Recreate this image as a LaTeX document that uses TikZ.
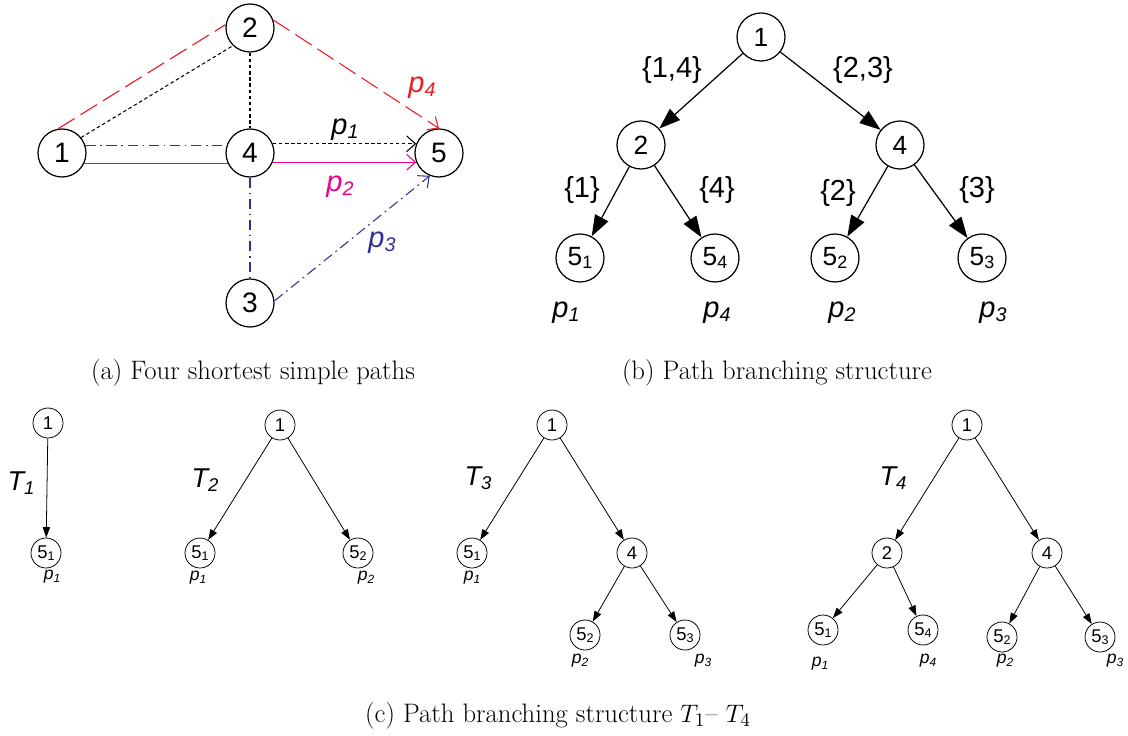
\documentclass[tikz,border=0pt]{standalone}
\usepackage{fontspec}
\newfontfamily\arialfont{Liberation Sans}
\usetikzlibrary{arrows.meta,positioning,calc}
\definecolor{pathred}{RGB}{237,28,36}
\definecolor{pathpink}{RGB}{236,0,140}
\definecolor{pathblue}{RGB}{46,49,146}
% small index set almost on the baseline
\newcommand{\idx}[1]{\raisebox{-0.25ex}{\scalebox{0.68}{#1}}}

\begin{document}
\begin{tikzpicture}[
    x=0.02cm, y=-0.02cm,
    font=\arialfont,
    big/.style={
        draw,
        circle,
        line width=0.7pt,
        minimum size=0.96cm,
        inner sep=0pt,
        font=\arialfont\fontsize{16}{18}\selectfont
    },
    mid/.style={big, font=\arialfont\fontsize{15}{17}\selectfont},
    small/.style={
        draw,
        circle,
        line width=0.45pt,
        minimum size=0.6cm,
        inner sep=0pt,
        font=\arialfont\fontsize{10.5}{12}\selectfont
    },
    plab/.style={font=\arialfont\itshape\fontsize{16.5}{18}\selectfont},
    slab/.style={font=\arialfont\fontsize{16.5}{18}\selectfont},
    splab/.style={font=\arialfont\itshape\fontsize{10}{11}\selectfont},
    tlab/.style={font=\arialfont\itshape\fontsize{15.5}{17}\selectfont},
    captext/.style={font=\rmfamily\fontsize{15.2}{17}\selectfont},
    openarrow/.style={-{Straight Barb[length=5pt, width=9pt]}, line width=0.6pt},
    barrow/.style={-{Triangle[length=12pt, width=8.5pt]}, line width=0.7pt},
    sarrow/.style={-{Triangle[length=6pt, width=4.2pt]}, line width=0.45pt},
    red path/.style={pathred, line width=0.65pt, dash pattern=on 11pt off 4pt},
    black path/.style={black, line width=0.6pt, dash pattern=on 2pt off 1.5pt},
    blue path/.style={pathblue, line width=0.65pt, dash pattern=on 6pt off 2.5pt on 1pt off 2.5pt},
    pink path/.style={pathpink, line width=0.8pt}
]
\useasboundingbox (0,0) rectangle (1128,736);

% ============================================================
% (a) FOUR SHORTEST SIMPLE PATHS
% ============================================================
\node[big] (a1) at (62,153) {1};
\node[big] (a2) at (250,28) {2};
\node[big] (a4) at (250,153) {4};
\node[big] (a5) at (439,153) {5};
\node[big] (a3) at (250,303) {3};

% p4
\draw[red path] (a1.99) -- (a2.172);
\draw[red path, openarrow] (a2.19) -- (a5.north);
% p1
\draw[black path] (a1.39) -- (a2.226);
\draw[black path] (a2.south) -- (a4.north);
\draw[black path, openarrow] (a4.22) -- (a5.158);
% p3
\draw[blue path] (a1.18) -- (a4.162);
\draw[blue path] (a4.south) -- (a3.north);
\draw[blue path, openarrow] (a3.5) -- (a5.248);
% p2
\draw[pink path] (a1.-25) -- (a4.205);
\draw[pink path, openarrow] (a4.-22) -- (a5.202);

\node[plab, pathred] (pa4) at (422,88) {p\idx{4}};
\node[plab] (pa1) at (345,130) {p\idx{1}};
\node[plab, pathpink] (pa2) at (340,187) {p\idx{2}};
\node[plab, pathblue] (pa3) at (382,243) {p\idx{3}};

\node[captext] (capa) at (253,373) {(a) Four shortest simple paths};

% ============================================================
% (b) PATH BRANCHING STRUCTURE
% ============================================================
\node[mid] (b1) at (761,37) {1};
\node[mid] (b2) at (641,145) {2};
\node[mid] (b4) at (900,145) {4};
\node[mid] (b51) at (580,258) {5\idx{1}};
\node[mid] (b54) at (715,258) {5\idx{4}};
\node[mid] (b52) at (835,258) {5\idx{2}};
\node[mid] (b53) at (982,258) {5\idx{3}};

\draw[barrow] (b1) -- (b2);
\draw[barrow] (b1) -- (b4);
\draw[barrow] (b2) -- (b51);
\draw[barrow] (b2) -- (b54);
\draw[barrow] (b4) -- (b52);
\draw[barrow] (b4) -- (b53);

\node[slab] at (672,70) {\{1,4\}};
\node[slab] at (863,70) {\{2,3\}};
\node[slab] at (582,190) {\{1\}};
\node[slab] at (717,190) {\{4\}};
\node[slab] at (838,193) {\{2\}};
\node[slab] at (977,190) {\{3\}};

\node[plab] at (566,313) {p\idx{1}};
\node[plab] at (717,313) {p\idx{4}};
\node[plab] at (842,313) {p\idx{2}};
\node[plab] at (993,313) {p\idx{3}};

\node[captext] (capb) at (777,373) {(b) Path branching structure};

% ============================================================
% (c) TREES T1 - T4
% ============================================================
% T1
\node[small] (c11) at (48,423) {1};
\node[small] (c151) at (46,553) {5\idx{1}};
\draw[sarrow] (c11) -- (c151);
\node[tlab] at (21,483) {T\idx{1}};
\node[splab] at (52,577) {p\idx{1}};

% T2
\node[small] (c21) at (280,425) {1};
\node[small] (c251) at (200,553) {5\idx{1}};
\node[small] (c252) at (358,553) {5\idx{2}};
\draw[sarrow] (c21) -- (c251);
\draw[sarrow] (c21) -- (c252);
\node[tlab] at (205,480) {T\idx{2}};
\node[splab] at (198,578) {p\idx{1}};
\node[splab] at (366,578) {p\idx{2}};

% T3
\node[small] (c31) at (552,425) {1};
\node[small] (c351) at (472,553) {5\idx{1}};
\node[small] (c34) at (632,553) {4};
\node[small] (c352) at (585,635) {5\idx{2}};
\node[small] (c353) at (685,635) {5\idx{3}};
\draw[sarrow] (c31) -- (c351);
\draw[sarrow] (c31) -- (c34);
\draw[sarrow] (c34) -- (c352);
\draw[sarrow] (c34) -- (c353);
\node[tlab] at (478,478) {T\idx{3}};
\node[splab] at (472,578) {p\idx{1}};
\node[splab] at (580,661) {p\idx{2}};
\node[splab] at (703,661) {p\idx{3}};

% T4
\node[small] (c41) at (967,425) {1};
\node[small] (c42) at (887,553) {2};
\node[small] (c44) at (1047,553) {4};
\node[small] (c451) at (823,630) {5\idx{1}};
\node[small] (c454) at (923,630) {5\idx{4}};
\node[small] (c452) at (1002,637) {5\idx{2}};
\node[small] (c453) at (1100,637) {5\idx{3}};
\draw[sarrow] (c41) -- (c42);
\draw[sarrow] (c41) -- (c44);
\draw[sarrow] (c42) -- (c451);
\draw[sarrow] (c42) -- (c454);
\draw[sarrow] (c44) -- (c452);
\draw[sarrow] (c44) -- (c453);
\node[tlab] at (893,478) {T\idx{4}};
\node[splab] at (820,664) {p\idx{1}};
\node[splab] at (928,661) {p\idx{4}};
\node[splab] at (1005,661) {p\idx{2}};
\node[splab] at (1115,661) {p\idx{3}};

\node[captext] (capc) at (558,716) {(c) Path branching structure $T_1$-- $T_4$};

\end{tikzpicture}
\end{document}
